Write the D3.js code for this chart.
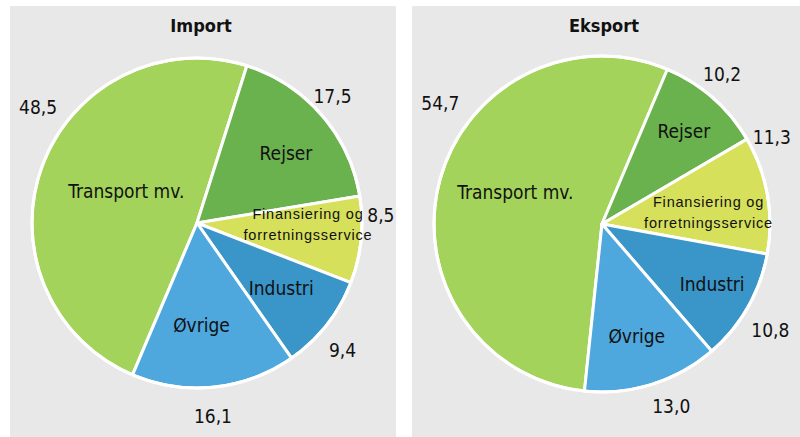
<!DOCTYPE html>
<html>
<head>
<meta charset="utf-8">
<script src="https://cdn.jsdelivr.net/npm/d3@7"></script>
<style>
  html, body { margin: 0; padding: 0; background: #fff; }
  svg { display: block; }
</style>
</head>
<body>
<div id="chart"></div>
<script>
// Two pies: service import / export shares (pct), Danish labels

const categories = ["Transport mv.", "Rejser", "Finansiering og forretningsservice", "Industri", "Øvrige"];
const importValues = [48.5, 17.5, 8.5, 9.4, 16.1];
const exportValues = [54.7, 10.2, 11.3, 10.8, 13.0];
const panelTitles = ["Import", "Eksport"];

const colors = ["#a3d35a", "#6ab24e", "#d6e05b", "#3a95c9", "#4ea7dd"];

const W = 800, H = 437;
const condensed = "'Liberation Sans Narrow', 'DejaVu Sans Condensed', sans-serif";

// layout per panel (positions only, no data)
const panels = [
  { values: importValues, x0: 10, x1: 396, cx: 197, cy: 223, r: 165, start: 17.6 - 174.6,
    // value label: angle shift (deg) and radius offset
    valShift: [15.5, -2, -8, 3.3, 1.3], valDist: [196, 185, 184, 194, 195],
    catShift: [3, 3.5, -4.5, 0, 3.5], catDist: [77, 112, 111, 107, 104] },
  { values: exportValues, x0: 412, x1: 800, cx: 602, cy: 224, r: 168, start: 22.9 - 196.9,
    valShift: [22, -2.3, -16.6, 2.9, -3.3], valDist: [201, 191, 190, 200, 196],
    catShift: [5.2, 0.5, 4.7, -0.7, 0.4], catDist: [92, 123, 107, 126, 119] }
];

const svg = d3.select("#chart").append("svg").attr("width", W).attr("height", H);

const numFmt = v => d3.format(".1f")(v).replace(".", ",");
const toRad = d => d * Math.PI / 180;

panels.forEach((p, pi) => {
  svg.append("rect")
    .attr("x", p.x0).attr("y", 6)
    .attr("width", p.x1 - p.x0).attr("height", H - 6)
    .attr("fill", "#e8e8e8");

  svg.append("text")
    .attr("x", (p.x0 + p.x1) / 2 - 2).attr("y", 27)
    .attr("text-anchor", "middle").attr("dominant-baseline", "middle")
    .attr("font-family", condensed)
    .attr("font-weight", "bold").attr("font-size", 18).attr("fill", "#111")
    .text(panelTitles[pi]);

  const pie = d3.pie().sort(null)
    .startAngle(toRad(p.start)).endAngle(toRad(p.start) + 2 * Math.PI);
  const arcs = pie(p.values);
  const arc = d3.arc().innerRadius(0).outerRadius(p.r);

  const g = svg.append("g").attr("transform", `translate(${p.cx},${p.cy})`);

  g.selectAll("path.slice").data(arcs).enter().append("path")
    .attr("class", "slice")
    .attr("d", arc)
    .attr("fill", (d, i) => colors[i])
    .attr("stroke", "#fff").attr("stroke-width", 3).attr("stroke-linejoin", "round");

  // outer ring stroke
  g.append("circle").attr("r", p.r).attr("fill", "none")
    .attr("stroke", "#fff").attr("stroke-width", 3);

  const polar = (ang, dist) => [Math.sin(ang) * dist, -Math.cos(ang) * dist];

  // value labels outside
  g.selectAll("text.val").data(arcs).enter().append("text")
    .attr("class", "val")
    .each(function (d, i) {
      const mid = (d.startAngle + d.endAngle) / 2 + toRad(p.valShift[i]);
      const [x, y] = polar(mid, p.valDist[i]);
      d3.select(this).attr("x", x).attr("y", y);
    })
    .attr("text-anchor", "middle").attr("dominant-baseline", "middle")
    .attr("font-family", condensed)
    .attr("font-size", 19).attr("fill", "#111")
    .text(d => numFmt(d.data));

  // category labels inside
  g.selectAll("text.cat").data(arcs).enter().append("text")
    .attr("class", "cat")
    .each(function (d, i) {
      const mid = (d.startAngle + d.endAngle) / 2 + toRad(p.catShift[i]);
      const [x, y] = polar(mid, p.catDist[i]);
      const t = d3.select(this).attr("text-anchor", "middle").attr("fill", "#111");
      const name = categories[i];
      if (i === 2) {
        // two-line, regular sans, a bit spaced out
        t.attr("font-family", "'Liberation Sans', Arial, sans-serif").attr("font-size", 14.5)
          .attr("letter-spacing", 0.8);
        const lines = ["Finansiering og", "forretningsservice"];
        lines.forEach((ln, k) => {
          t.append("tspan").attr("x", x).attr("y", y - 11 + k * 21)
            .attr("dominant-baseline", "middle").text(ln);
        });
      } else {
        t.attr("x", x).attr("y", y).attr("dominant-baseline", "middle")
          .attr("font-family", condensed)
          .attr("font-size", 19).text(name);
      }
    });
});
</script>
</body>
</html>
